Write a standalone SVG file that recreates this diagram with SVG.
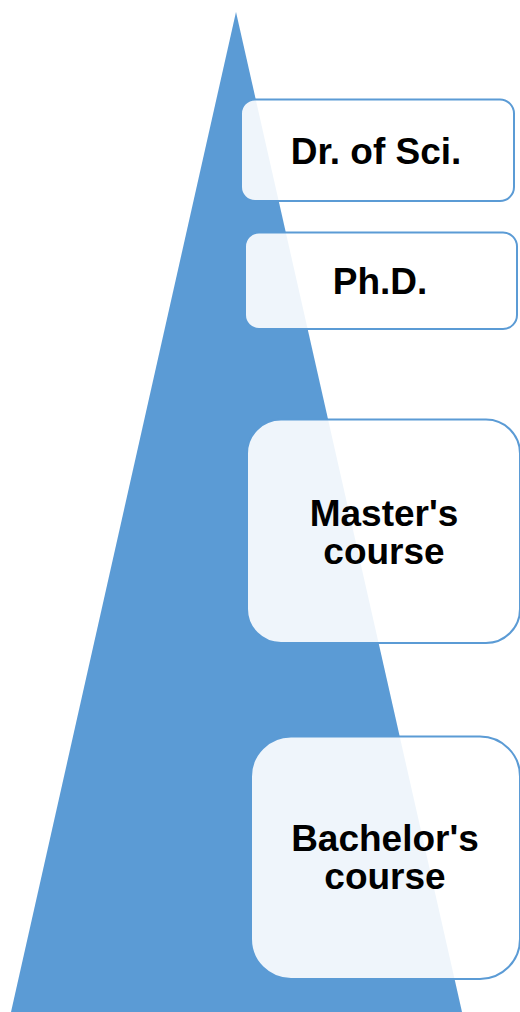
<svg xmlns="http://www.w3.org/2000/svg" width="520" height="1012" viewBox="0 0 520 1012">
<style>
.box{fill:#ffffff;fill-opacity:0.9;stroke:#5B9BD5;stroke-width:2}
.t{font-family:"Liberation Sans",Arial,sans-serif;font-weight:bold;font-size:37px;fill:#000;text-anchor:middle}
</style>
<rect width="520" height="1012" fill="#ffffff"/>
<g id="pyramid"><polygon points="236,12 11,1012 462,1012" fill="#5B9BD5"/></g>
<g id="connectors"></g>
<g id="node-dr"><rect class="box" x="241" y="99.5" width="273" height="101.5" rx="14"/><text class="t" x="376" y="164">Dr. of Sci.</text></g>
<g id="node-phd"><rect class="box" x="245" y="232.5" width="272" height="96.5" rx="14"/><text class="t" x="380" y="294">Ph.D.</text></g>
<g id="node-master"><rect class="box" x="247" y="419.5" width="273" height="223.5" rx="34"/><text class="t" x="384" y="526">Master's</text><text class="t" x="384" y="564">course</text></g>
<g id="node-bachelor"><rect class="box" x="251" y="736.5" width="269" height="242.5" rx="40"/><text class="t" x="385" y="851">Bachelor's</text><text class="t" x="385" y="889">course</text></g>
</svg>
